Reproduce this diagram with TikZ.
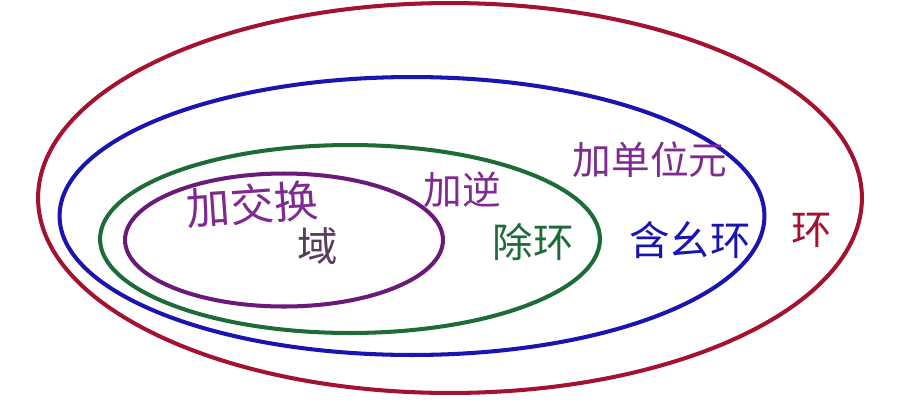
\documentclass[tikz,border=0pt]{standalone}
\usepackage{fontspec}
\newfontfamily\cjk{Noto Sans CJK SC}
\usetikzlibrary{shapes.geometric}
\definecolor{ringred}{HTML}{A3122E}
\definecolor{ringblue}{HTML}{1A14B0}
\definecolor{ringgreen}{HTML}{1E6B3A}
\definecolor{ringpurple}{HTML}{6A1A78}
\definecolor{fieldtext}{HTML}{5A3A5E}
\definecolor{handpurple}{HTML}{7E2A90}

\tikzset{
  oval/.style={ellipse, draw=#1, line width=2.3pt, inner sep=0pt},
  tag/.style={font=\cjk\fontsize{23}{23}\selectfont, text=#1, inner sep=0pt},
  note/.style={font=\cjk\fontsize{22}{22}\selectfont, text=handpurple, inner sep=0pt}
}

\begin{document}
\begin{tikzpicture}[x=0.02cm, y=-0.02cm]
    \useasboundingbox (0,0) rectangle (918,406);
    % nested rings
    \node[oval=ringred, minimum width=16.48cm, minimum height=7.8cm] (ring) at (450,198) {};
    \node[oval=ringblue, minimum width=14.1cm, minimum height=5.56cm] (unitring) at (412,216) {};
    \node[oval=ringgreen, minimum width=10cm, minimum height=3.76cm] (divring) at (350,239) {};
    \node[oval=ringpurple, minimum width=6.36cm, minimum height=2.66cm] (field) at (284,240) {};

    \node[tag=fieldtext] (fieldlbl) at (318,246) {域};
    \node[tag=ringgreen] (divlbl) at (533,242) {除环};
    \node[tag=ringblue] (unitlbl) at (690,240) {含幺环};
    \node[tag=ringred] (ringlbl) at (812,230) {环};

    % handwritten notes
    \node[note, font=\cjk\fontsize{25}{25}\selectfont, rotate=4] (addcomm) at (252,204) {加交换};
    \node[note] (addinv) at (462,190) {加逆};
    \node[note] (addunit) at (650,160) {加单位元};
  \end{tikzpicture}
\end{document}
